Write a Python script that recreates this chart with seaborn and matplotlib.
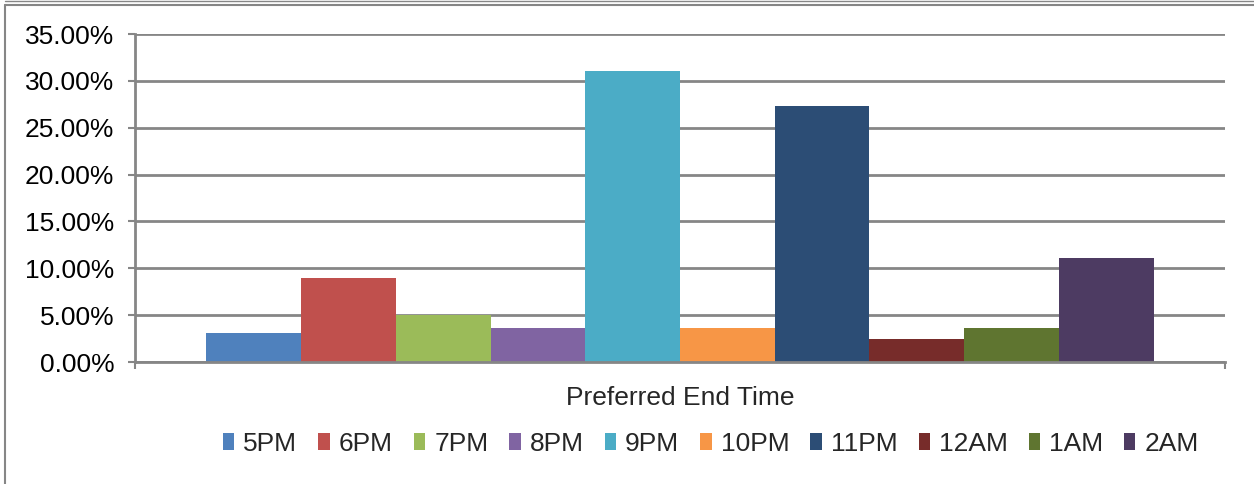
import pandas as pd
import seaborn as sns
import matplotlib.pyplot as plt
from matplotlib.lines import Line2D
from matplotlib.ticker import FuncFormatter

# valores
horarios = ['5PM', '6PM', '7PM', '8PM', '9PM', '10PM', '11PM', '12AM', '1AM', '2AM']
percentuais = [0.0306, 0.0893, 0.0505, 0.0367, 0.3110, 0.0367, 0.2730, 0.0249, 0.0367, 0.1115]
cores = ['#4F81BD', '#C0504D', '#9BBB59', '#8064A2', '#4BACC6',
         '#F79646', '#2C4D75', '#772C2A', '#5F7530', '#4D3B62']
categoria = 'Preferred End Time'

df = pd.DataFrame({'categoria': categoria, 'horario': horarios, 'pct': percentuais})

sns.set_style('white')
plt.rcParams['font.family'] = ['Liberation Sans', 'DejaVu Sans']

cinza = '#868686'
tam = 19

fig = plt.figure(figsize=(12.54, 4.84), dpi=100)
ax = fig.add_axes([135 / 1254, 1 - 362 / 484, 1090 / 1254, 328 / 484])

sns.barplot(data=df, x='categoria', y='pct', hue='horario', hue_order=horarios,
            palette=cores, width=0.869, gap=0, saturation=1, linewidth=0,
            ax=ax, legend=True)

ax.set_xlim(-0.5, 0.5)
ax.set_ylim(0, 0.35)
ax.set_yticks([i * 0.05 for i in range(8)])
ax.yaxis.set_major_formatter(FuncFormatter(lambda v, p: f'{v * 100:.2f}%'))
ax.grid(axis='y', color=cinza, linewidth=2)
ax.set_axisbelow(True)

for lado in ['top', 'right']:
    ax.spines[lado].set_visible(False)
for lado in ['left', 'bottom']:
    ax.spines[lado].set_color(cinza)
    ax.spines[lado].set_linewidth(2)

ax.tick_params(axis='y', left=True, length=5, width=1.5, color=cinza,
               labelsize=tam, labelcolor='black', pad=10)
ax.set_xticks([-0.5, 0.5], minor=True)
ax.tick_params(axis='x', which='minor', bottom=True, length=5, width=1.5, color=cinza)
ax.tick_params(axis='x', which='major', bottom=False, labelsize=tam, pad=14)
ax.set_xlabel('')
ax.set_ylabel('')

handles, labels = ax.get_legend_handles_labels()
ax.legend(handles, labels, ncol=10, frameon=False, fontsize=tam,
          loc='center', bbox_to_anchor=(711 / 1254, 1 - 444 / 484),
          bbox_transform=fig.transFigure, handlelength=0.42, handleheight=0.6,
          handletextpad=0.35, columnspacing=0.8, borderaxespad=0)

# moldura do grafico
fig.add_artist(Line2D([5 / 1254, 1], [1 - 5 / 484] * 2, color=cinza, lw=1.5))
fig.add_artist(Line2D([5 / 1254, 1], [1 - 1 / 484] * 2, color=cinza, lw=1))
fig.add_artist(Line2D([5 / 1254] * 2, [0, 1 - 5 / 484], color=cinza, lw=1.5))

fig.savefig('out.png', dpi=100)
